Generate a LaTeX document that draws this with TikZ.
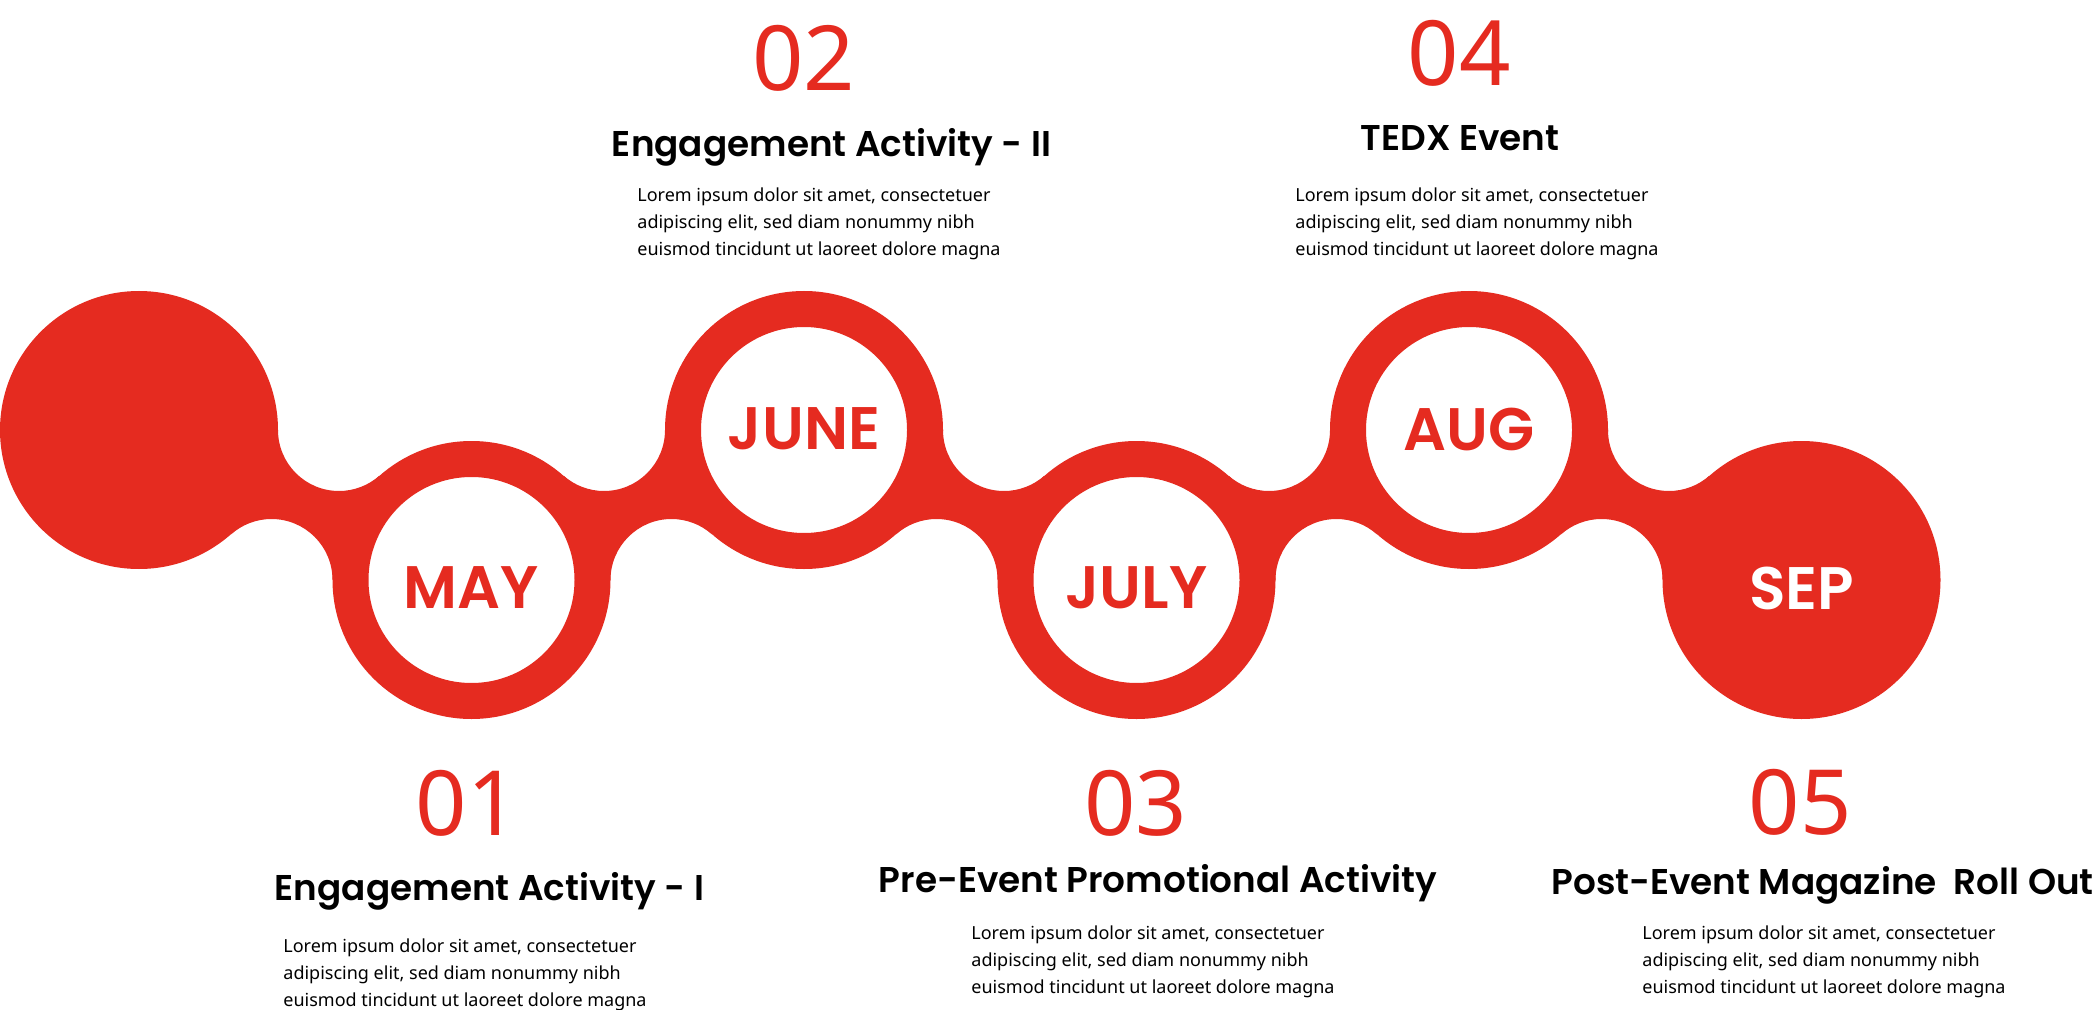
\documentclass[tikz,border=0pt]{standalone}
\usepackage{fontspec}
\setmainfont{Noto Sans}
\newfontfamily\popfont{Poppins SemiBold}
\newfontfamily\numfont{Noto Sans}
\usetikzlibrary{calc}
\definecolor{tlred}{HTML}{E52B20}

\begin{document}
\begin{tikzpicture}[x=0.5pt,y=0.5pt,
    dot/.style={circle,fill=tlred,inner sep=0pt,minimum size=139pt},
    ring/.style={circle,draw=tlred,line width=18pt,fill=white,inner sep=0pt,minimum size=121pt},
    month/.style={font=\popfont\fontsize{30}{30}\selectfont,text=tlred,inner sep=0pt},
    num/.style={font=\numfont\fontsize{45}{45}\selectfont,text=tlred,anchor=base,inner sep=0pt},
    head/.style={font=\popfont\fontsize{17.9}{20}\selectfont,anchor=base,inner sep=0pt},
    body/.style={font=\fontsize{9}{13.5}\selectfont,align=left,anchor=base west,inner sep=0pt},
  ]
  \fill[white] (0,0) rectangle (2094,1009);
  \useasboundingbox (0,0) rectangle (2094,1009);

  \coordinate (c0) at (139,579);
  \coordinate (c1) at (471.5,429);
  \coordinate (c2) at (804,579);
  \coordinate (c3) at (1136.5,429);
  \coordinate (c4) at (1469,579);
  \coordinate (c5) at (1801.5,429);

  \foreach \i in {0,...,4}{
    \pgfmathtruncatemacro\j{\i+1}
    \pgfmathsetmacro\s{mod(\i,2)==1 ? 1 : -1}
    \pgfmathsetmacro\ua{\s*180}
    \pgfmathsetmacro\ub{\s*48.46}
    \pgfmathsetmacro\lb{-\s*131.54}
    \coordinate (fa\i) at ($(c\i)+(200,0)$);
    \coordinate (fb\i) at ($(c\j)+(-200,0)$);
    \fill[tlred] ($(fa\i)+(-61,0)$) arc[start angle=\ua, end angle=\ub, radius=61]
      -- ($(fb\i)+(61,0)$) arc[start angle=0, end angle=\lb, radius=61] -- cycle;
  }

  \node[dot] (start) at (c0) {};
  \node[ring] (may) at (c1) {};
  \node[ring] (june) at (c2) {};
  \node[ring] (july) at (c3) {};
  \node[ring] (aug) at (c4) {};
  \node[dot] (sep) at (c5) {};

  \node[month] (maylbl) at (471.5,421) {MAY};
  \node[month] (junelbl) at (804,580) {JUNE};
  \node[month] (julylbl) at (1136.5,421) {JULY};
  \node[month] (auglbl) at (1469,580) {AUG};
  \node[month,text=white] (seplbl) at (1801.5,421) {SEP};

  \node[num] (n01) at (467,174) {01};
  \node[head] (h01) at (489.5,109) {Engagement Activity - I};
  \node[body] (b01) at (283,3) {Lorem ipsum dolor sit amet, consectetuer\\adipiscing elit, sed diam nonummy nibh\\euismod tincidunt ut laoreet dolore magna};

  \node[num] (n02) at (803.5,918) {02};
  \node[head] (h02) at (831.5,852) {Engagement Activity - II};
  \node[body] (b02) at (637,754) {Lorem ipsum dolor sit amet, consectetuer\\adipiscing elit, sed diam nonummy nibh\\euismod tincidunt ut laoreet dolore magna};

  \node[num] (n03) at (1135.5,174) {03};
  \node[head] (h03) at (1158,117) {Pre-Event Promotional Activity};
  \node[body] (b03) at (971,16) {Lorem ipsum dolor sit amet, consectetuer\\adipiscing elit, sed diam nonummy nibh\\euismod tincidunt ut laoreet dolore magna};

  \node[num] (n04) at (1459,923) {04};
  \node[head] (h04) at (1460,858) {TEDX Event};
  \node[body] (b04) at (1295,754) {Lorem ipsum dolor sit amet, consectetuer\\adipiscing elit, sed diam nonummy nibh\\euismod tincidunt ut laoreet dolore magna};

  \node[num] (n05) at (1800,175) {05};
  \node[head,anchor=base west] (h05) at (1551,115) {Post-Event Magazine\ \ Roll Out};
  \node[body] (b05) at (1642,16) {Lorem ipsum dolor sit amet, consectetuer\\adipiscing elit, sed diam nonummy nibh\\euismod tincidunt ut laoreet dolore magna};
\end{tikzpicture}
\end{document}
